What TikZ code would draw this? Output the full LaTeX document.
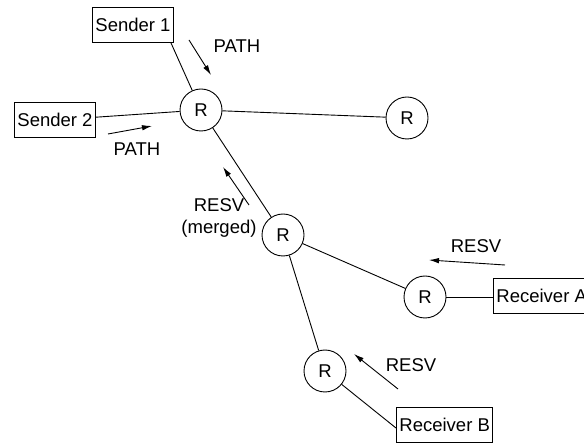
\documentclass[tikz,border=0pt]{standalone}
\usepackage{fontspec}
\setmainfont{Liberation Sans}
\usetikzlibrary{arrows.meta,positioning}
\tikzstyle{router} = [circle, draw, line width=0.9pt, minimum size=42pt, inner sep=0pt, font=\fontsize{18.5}{20}\selectfont]
\tikzstyle{host}   = [rectangle, draw, line width=0.9pt, minimum height=35pt, inner xsep=3pt, font=\fontsize{18.5}{20}\selectfont]
\tikzstyle{link}   = [draw, line width=0.9pt]
\tikzstyle{msg}    = [draw, line width=0.9pt, -{Latex[length=10pt,width=5.5pt]}]
\tikzstyle{lbl}    = [inner sep=0pt, align=center, font=\fontsize{18.5}{22}\selectfont]

\begin{document}
\begin{tikzpicture}[x=1pt,y=-1pt]
\useasboundingbox (0,0) rectangle (584,443);

% routers =============================
\node[router] (r1) at (201,110) {R};
\node[router] (r2) at (407,118) {R};
\node[router] (r3) at (283,235) {R};
\node[router] (r4) at (425,297) {R};
\node[router] (r5) at (325,371) {R};

% senders and receivers
\node[host] (s1) at (133,25) {Sender 1};
\node[host] (s2) at (55,120) {Sender 2};
\node[host, anchor=west] (ra) at (493,296) {Receiver A};
\node[host, anchor=west] (rb) at (396,425) {Receiver B};

% links
\path[link] ([xshift=-3pt]s1.south east) -- (r1);
\path[link] (s2) -- (r1);
\path[link] (r1) -- (r2);
\path[link] (r1) -- (r3);
\path[link] (r3) -- (r4);
\path[link] (r4) -- (r4 -| ra.west);
\path[link] (r3) -- (r5);
\path[link] (r5) -- ([yshift=-3pt]rb.west);

% PATH messages
\coordinate (path1a) at (189,40);
\coordinate (path1b) at (211,75);
\coordinate (path2a) at (108,134);
\coordinate (path2b) at (152,126);
\path[msg] (path1a) -- (path1b);
\path[msg] (path2a) -- (path2b);
\node[lbl] (path1) at (237,46) {PATH};
\node[lbl] (path2) at (137,149) {PATH};

% RESV messages
\coordinate (resv1a) at (249,205);
\coordinate (resv1b) at (223,167);
\coordinate (resv2a) at (505,265);
\coordinate (resv2b) at (429,260);
\coordinate (resv3a) at (398,389);
\coordinate (resv3b) at (354,354);
\path[msg] (resv1a) -- (resv1b);
\path[msg] (resv2a) -- (resv2b);
\path[msg] (resv3a) -- (resv3b);
\node[lbl] (resv1) at (219,218) {RESV\\(merged)};
\node[lbl] (resv2) at (476,246) {RESV};
\node[lbl] (resv3) at (411,365) {RESV};

\end{tikzpicture}
\end{document}
